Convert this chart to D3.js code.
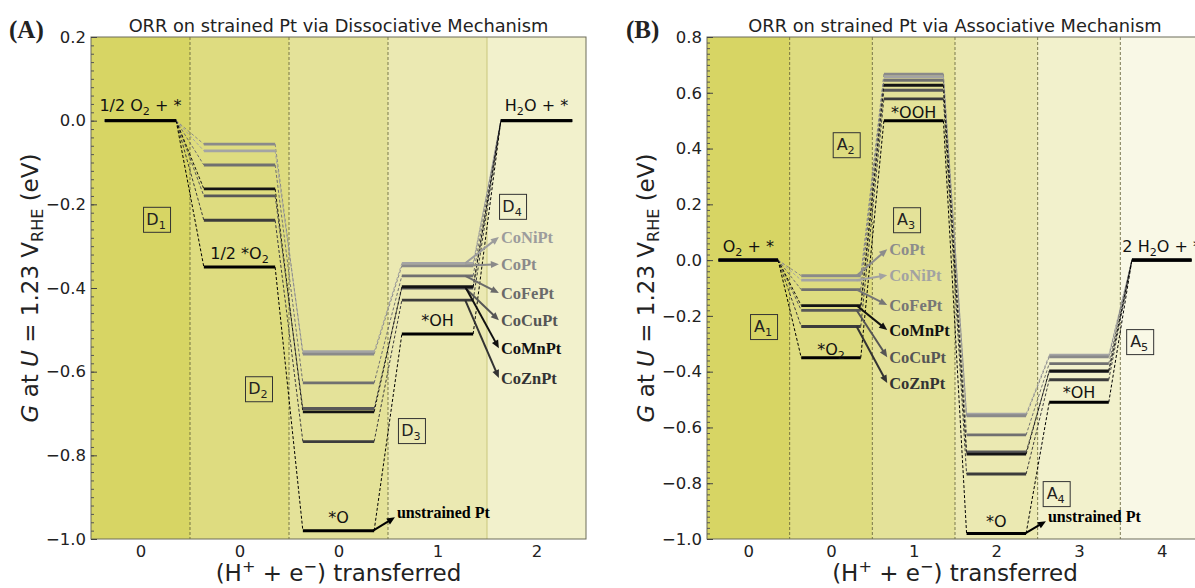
<!DOCTYPE html>
<html>
<head>
<meta charset="utf-8">
<script src="https://cdn.jsdelivr.net/npm/d3@7"></script>
<style>
body { margin: 0; background: #fff; }
text { font-family: "DejaVu Sans", sans-serif; white-space: pre; }
text.serif { font-family: "Liberation Serif", "Times New Roman", serif; font-weight: bold; }
</style>
</head>
<body>
<script>
var W = 1195, H = 588;

// (A) dissociative mechanism
var dissSteps = ["1/2 O_2 + *", "1/2 *O_2", "*O", "*OH", "H_2O + *"];
var dissTicks = ["0", "0", "0", "1", "2"];
var dissPt     = [0, -0.35,  -0.98,  -0.51,  0];
var dissCoZnPt = [0, -0.238, -0.767, -0.429, 0];
var dissCoMnPt = [0, -0.163, -0.696, -0.397, 0];
var dissCoCuPt = [0, -0.18,  -0.688, -0.40,  0];
var dissCoFePt = [0, -0.106, -0.627, -0.371, 0];
var dissCoPt   = [0, -0.056, -0.558, -0.347, 0];
var dissCoNiPt = [0, -0.072, -0.552, -0.341, 0];

// (B) associative mechanism
var assocSteps = ["O_2 + *", "*O_2", "*OOH", "*O", "*OH", "2 H_2O + *"];
var assocTicks = ["0", "0", "1", "2", "3", "4"];
var assocPt     = [0, -0.35,  0.50,  -0.98,  -0.51,  0];
var assocCoZnPt = [0, -0.238, 0.578, -0.767, -0.429, 0];
var assocCoMnPt = [0, -0.163, 0.627, -0.696, -0.397, 0];
var assocCoCuPt = [0, -0.18,  0.609, -0.688, -0.40,  0];
var assocCoFePt = [0, -0.106, 0.645, -0.627, -0.371, 0];
var assocCoPt   = [0, -0.056, 0.667, -0.558, -0.347, 0];
var assocCoNiPt = [0, -0.072, 0.657, -0.552, -0.341, 0];

var systems = ["CoNiPt", "CoPt", "CoFePt", "CoCuPt", "CoZnPt", "CoMnPt", "Pt"];
var dissTagOrder  = ["CoNiPt", "CoPt", "CoFePt", "CoCuPt", "CoMnPt", "CoZnPt"];
var assocTagOrder = ["CoPt", "CoNiPt", "CoFePt", "CoMnPt", "CoCuPt", "CoZnPt"];
var dissBoxes  = ["D_1", "D_2", "D_3", "D_4"];
var assocBoxes = ["A_1", "A_2", "A_3", "A_4", "A_5"];

// styling
var colorOf = {CoNiPt: "#a4a4a4", CoPt: "#8a8a8a", CoFePt: "#707070", CoCuPt: "#585858",
               CoZnPt: "#3c3c3c", CoMnPt: "#141414", Pt: "#000"};
var bandColors = ["#d7d564", "#dedc80", "#e4e299", "#ebe9b2", "#f2f1cc", "#f9f8e6"];
var halfW = 0.36;

var svg = d3.select("body").append("svg").attr("width", W).attr("height", H);

function rich(sel, str, fs) {
	var parts = [], re = /_\{([^}]*)\}|_(.)|\^\{([^}]*)\}|\^(.)/g, last = 0, m;
	while ((m = re.exec(str)) !== null) {
		if (m.index > last) parts.push({t: str.slice(last, m.index), s: 0});
		if (m[1] !== undefined || m[2] !== undefined) parts.push({t: m[1] || m[2], s: 1});
		else parts.push({t: m[3] || m[4], s: -1});
		last = re.lastIndex;
	}
	if (last < str.length) parts.push({t: str.slice(last), s: 0});
	var cur = 0;
	parts.forEach(function(p) {
		var off = p.s === 1 ? 0.25 * fs : p.s === -1 ? -0.4 * fs : 0;
		var ts = sel.append("tspan").attr("dy", off - cur).text(p.t);
		if (p.s) ts.attr("font-size", 0.7 * fs);
		cur = off;
	});
	return sel;
}

function arrow(g, x0, y0, x1, y1, color) {
	var dx = x1 - x0, dy = y1 - y0, L = Math.sqrt(dx * dx + dy * dy);
	var ux = dx / L, uy = dy / L, hl = 8, hw = 3.5;
	g.append("line")
		.attr("x1", x0).attr("y1", y0)
		.attr("x2", x1 - ux * hl * 0.8).attr("y2", y1 - uy * hl * 0.8)
		.attr("stroke", color).attr("stroke-width", 2);
	g.append("path")
		.attr("d", ["M", x1, y1,
			"L", x1 - ux * hl - uy * hw, y1 - uy * hl + ux * hw,
			"L", x1 - ux * hl + uy * hw, y1 - uy * hl - ux * hw, "Z"].join(" "))
		.attr("fill", color);
}

function drawPanel(p) {
	var n = p.steps.length;
	var x = d3.scaleLinear().domain([-0.5, n - 0.5]).range([p.left, p.right]);
	var y = d3.scaleLinear().domain(p.yDomain).range([p.bottom, p.top]);
	var g = svg.append("g");

	svg.append("clipPath").attr("id", "clip" + p.id).append("rect")
		.attr("x", p.left).attr("y", p.top)
		.attr("width", p.right - p.left).attr("height", p.bottom - p.top);
	var plot = g.append("g").attr("clip-path", "url(#clip" + p.id + ")");

	// background bands
	plot.selectAll("rect.band").data(p.steps).join("rect")
		.attr("class", "band")
		.attr("x", function(d, i) { return x(i - 0.5); })
		.attr("width", x(1) - x(0) + 0.5)
		.attr("y", p.top).attr("height", p.bottom - p.top)
		.attr("fill", function(d, i) { return bandColors[i]; });

	// separators
	for (var i = 1; i < n; i++) {
		var solid = i === p.solidSep;
		plot.append("line")
			.attr("x1", x(i - 0.5)).attr("x2", x(i - 0.5))
			.attr("y1", p.top).attr("y2", p.bottom)
			.attr("stroke", solid ? "#c9c77c" : "#5e5d35")
			.attr("stroke-width", solid ? 1 : 0.8)
			.attr("stroke-dasharray", solid ? null : "3,2");
	}

	// dashed connectors
	p.series.forEach(function(s) {
		for (var i = 0; i < n - 1; i++) {
			plot.append("line")
				.attr("x1", x(i + halfW)).attr("y1", y(s.values[i]))
				.attr("x2", x(i + 1 - halfW)).attr("y2", y(s.values[i + 1]))
				.attr("stroke", colorOf[s.name]).attr("stroke-width", 1)
				.attr("stroke-dasharray", "3,2");
		}
	});

	// energy levels
	p.series.forEach(function(s) {
		plot.selectAll(null).data(s.values).join("line")
			.attr("x1", function(d, i) { return x(i - halfW); })
			.attr("x2", function(d, i) { return x(i + halfW); })
			.attr("y1", function(d) { return y(d); })
			.attr("y2", function(d) { return y(d); })
			.attr("stroke", colorOf[s.name])
			.attr("stroke-width", s.name === "Pt" ? 3 : 2.8);
	});

	// step labels
	var ref = p.series[p.series.length - 1].values;
	p.steps.forEach(function(lab, i) {
		rich(plot.append("text")
			.attr("x", x(i)).attr("y", y(ref[i]) - p.labelOff[i])
			.attr("text-anchor", "middle").attr("font-size", 16).attr("fill", "#111"), lab, 16);
	});

	// boxed step names
	p.boxes.forEach(function(b, i) {
		var cx = x(p.boxPos[i][0]), cy = y(p.boxPos[i][1]);
		plot.append("rect")
			.attr("x", cx - 13.5).attr("y", cy - 12.5).attr("width", 27).attr("height", 25)
			.attr("fill", "none").attr("stroke", "#333").attr("stroke-width", 1);
		rich(plot.append("text")
			.attr("x", cx - 1).attr("y", cy + 5)
			.attr("text-anchor", "middle").attr("font-size", 16).attr("fill", "#222"), b, 16);
	});

	// arrows to the alloy names
	p.tagOrder.forEach(function(name, k) {
		var v = p.series.filter(function(s) { return s.name === name; })[0].values[p.tagStep];
		var c = p.tagColor[name];
		arrow(g, x(p.tagFrom), y(v), x(p.tagTo), y(p.tagY[k]), c);
		g.append("text").attr("class", "serif")
			.attr("x", x(p.tagTo) + 2).attr("y", y(p.tagY[k]))
			.attr("dy", "0.35em").attr("font-size", 16.5)
			.attr("fill", c).text(name);
	});
	arrow(g, x(p.ptArrow[0]), y(p.ptArrow[1]), x(p.ptArrow[2]), y(p.ptArrow[3]), "#000");
	g.append("text").attr("class", "serif")
		.attr("x", x(p.ptArrow[2]) + 2).attr("y", y(p.ptArrow[3]) + 1)
		.attr("font-size", 16).attr("fill", "#000").text("unstrained Pt");

	// frame
	g.append("rect")
		.attr("x", p.left).attr("y", p.top)
		.attr("width", p.right - p.left).attr("height", p.bottom - p.top)
		.attr("fill", "none").attr("stroke", "#6d6d5a").attr("stroke-width", 1);

	// y axis (ticks inside)
	var yMajor = d3.range(Math.round(p.yDomain[0] * 5), Math.round(p.yDomain[1] * 5) + 1)
		.map(function(k) { return k / 5; });
	var yMinor = d3.range(Math.round(p.yDomain[0] * 50), Math.round(p.yDomain[1] * 50) + 1)
		.map(function(k) { return k / 50; });
	g.append("g").attr("transform", "translate(" + p.left + ",0)")
		.call(d3.axisLeft(y).tickValues(yMinor).tickSize(-3).tickFormat(""))
		.call(function(a) { a.select(".domain").remove(); a.selectAll("line").attr("stroke", "#555"); });
	var ya = g.append("g").attr("transform", "translate(" + p.left + ",0)")
		.call(d3.axisLeft(y).tickValues(yMajor).tickSize(-6).tickPadding(5)
			.tickFormat(function(d) { return d3.format(".1f")(d).replace("-", "\u2212"); }));
	ya.select(".domain").remove();
	ya.selectAll("line").attr("stroke", "#444");
	ya.selectAll("text").attr("font-family", null).attr("font-size", 16.5).attr("fill", "#222");

	// x axis
	var xa = g.append("g").attr("transform", "translate(0," + p.bottom + ")")
		.call(d3.axisBottom(x).tickValues(d3.range(n)).tickSize(0).tickPadding(6)
			.tickFormat(function(d) { return p.ticks[d]; }));
	xa.select(".domain").remove();
	xa.selectAll("text").attr("font-family", null).attr("font-size", 16.5).attr("fill", "#222");

	// titles and axis labels
	var mid = (p.left + p.right) / 2;
	g.append("text").attr("x", mid).attr("y", 32).attr("text-anchor", "middle")
		.attr("font-size", 17.8).attr("fill", "#222").text(p.title);
	g.append("text").attr("class", "serif").attr("x", p.tagX).attr("y", 38)
		.attr("font-size", 25).attr("fill", "#222").text(p.tag);

	var yl = g.append("text")
		.attr("transform", "translate(" + p.ylabX + "," + ((p.top + p.bottom) / 2) + ") rotate(-90)")
		.attr("text-anchor", "middle").attr("font-size", 23).attr("fill", "#222");
	yl.append("tspan").attr("font-style", "italic").text("G");
	yl.append("tspan").text(" at ");
	yl.append("tspan").attr("font-style", "italic").text("U");
	yl.append("tspan").text(" = 1.23 V");
	yl.append("tspan").attr("font-size", 16).attr("dy", 5).text("RHE");
	yl.append("tspan").attr("dy", -5).text(" (eV)");

	rich(g.append("text").attr("x", mid).attr("y", 581)
		.attr("text-anchor", "middle").attr("font-size", 23).attr("fill", "#222"),
		"(H^+ + e^\u2212) transferred", 23);
}

function makeSeries(table) {
	return systems.map(function(name) { return {name: name, values: table[name]}; });
}

drawPanel({
	id: "A", tag: "(A)", tagX: 9,
	title: "ORR on strained Pt via Dissociative Mechanism",
	left: 91, right: 586, top: 37, bottom: 539, yDomain: [-1.0, 0.2], ylabX: 38,
	steps: dissSteps, ticks: dissTicks, solidSep: 4,
	series: makeSeries({CoNiPt: dissCoNiPt, CoPt: dissCoPt, CoFePt: dissCoFePt,
		CoCuPt: dissCoCuPt, CoZnPt: dissCoZnPt, CoMnPt: dissCoMnPt, Pt: dissPt}),
	labelOff: [10, 8, 8, 8, 10],
	boxes: dissBoxes,
	boxPos: [[0.167, -0.237], [1.197, -0.642], [2.742, -0.742], [3.763, -0.206]],
	tagOrder: dissTagOrder, tagStep: 3, tagFrom: 3.28, tagTo: 3.62,
	tagY: [-0.278, -0.343, -0.412, -0.477, -0.544, -0.615],
	tagColor: {CoNiPt: "#9c9c9c", CoPt: "#8a8a8a", CoFePt: "#6a6a6a", CoCuPt: "#555",
		CoMnPt: "#111", CoZnPt: "#333"},
	ptArrow: [2.35, -0.98, 2.57, -0.948]
});

drawPanel({
	id: "B", tag: "(B)", tagX: 626,
	title: "ORR on strained Pt via Associative Mechanism",
	left: 707, right: 1203, top: 37, bottom: 539, yDomain: [-1.0, 0.8], ylabX: 654,
	steps: assocSteps, ticks: assocTicks, solidSep: -1,
	series: makeSeries({CoNiPt: assocCoNiPt, CoPt: assocCoPt, CoFePt: assocCoFePt,
		CoCuPt: assocCoCuPt, CoZnPt: assocCoZnPt, CoMnPt: assocCoMnPt, Pt: assocPt}),
	labelOff: [8, 3, 3, 6, 4, 8],
	boxes: assocBoxes,
	boxPos: [[0.19, -0.24], [1.19, 0.412], [1.92, 0.143], [3.73, -0.839], [4.74, -0.294]],
	tagOrder: assocTagOrder, tagStep: 1, tagFrom: 1.31, tagTo: 1.68,
	tagY: [0.039, -0.054, -0.161, -0.251, -0.348, -0.441],
	tagColor: {CoPt: "#8c8c8c", CoNiPt: "#a2a2a2", CoFePt: "#767676", CoMnPt: "#111",
		CoCuPt: "#555", CoZnPt: "#333"},
	ptArrow: [3.35, -0.98, 3.60, -0.936]
});
</script>
</body>
</html>
